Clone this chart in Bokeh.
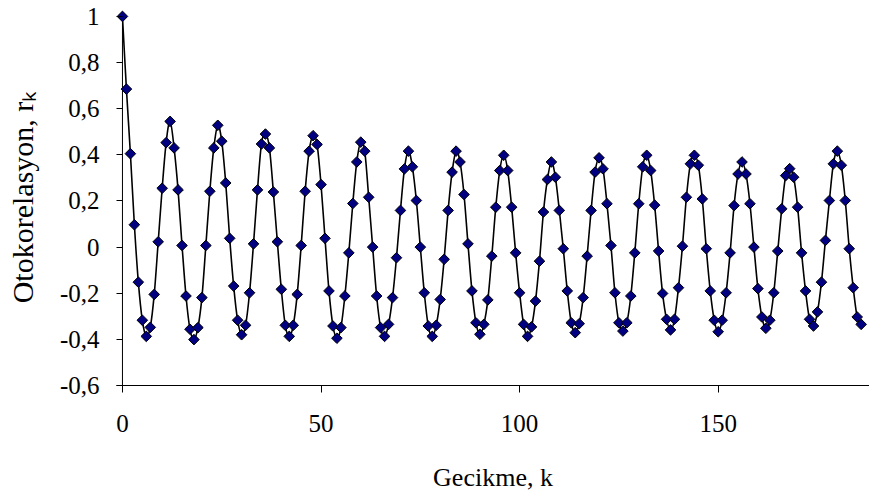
import math
from bokeh.plotting import figure
from bokeh.models import FixedTicker, Range1d
from bokeh.embed import file_html
from bokeh.resources import INLINE

# autocorrelation r_k for lags k = 0..186
rk = [1.0, 0.685, 0.405, 0.097, -0.152, -0.317, -0.387, -0.348, -0.205, 0.023,
      0.255, 0.453, 0.545, 0.430, 0.248, 0.007, -0.212, -0.356, -0.401, -0.349,
      -0.219, 0.007, 0.242, 0.430, 0.528, 0.459, 0.278, 0.038, -0.169, -0.317,
      -0.380, -0.339, -0.198, 0.014, 0.248, 0.447, 0.490, 0.430, 0.239, 0.023,
      -0.183, -0.339, -0.387, -0.339, -0.205, 0.007, 0.242, 0.416, 0.483, 0.445,
      0.271, 0.038, -0.190, -0.342, -0.395, -0.349, -0.212, -0.025, 0.189, 0.369,
      0.455, 0.416, 0.216, 0.0, -0.212, -0.349, -0.387, -0.335, -0.219, -0.046,
      0.159, 0.339, 0.416, 0.348, 0.202, 0.0, -0.198, -0.342, -0.387, -0.339,
      -0.227, -0.053, 0.159, 0.325, 0.416, 0.369, 0.228, 0.014, -0.190, -0.328,
      -0.378, -0.335, -0.229, -0.039, 0.173, 0.332, 0.398, 0.332, 0.173, -0.025,
      -0.198, -0.335, -0.387, -0.346, -0.234, -0.061, 0.152, 0.293, 0.369, 0.303,
      0.159, -0.007, -0.190, -0.328, -0.371, -0.332, -0.219, -0.039, 0.159, 0.325,
      0.387, 0.339, 0.188, 0.007, -0.198, -0.328, -0.364, -0.328, -0.212, -0.025,
      0.188, 0.348, 0.398, 0.332, 0.182, -0.017, -0.201, -0.313, -0.359, -0.313,
      -0.176, 0.004, 0.216, 0.361, 0.398, 0.355, 0.209, -0.007, -0.190, -0.317,
      -0.367, -0.317, -0.198, -0.025, 0.180, 0.317, 0.369, 0.317, 0.188, 0.0,
      -0.180, -0.303, -0.352, -0.317, -0.198, -0.017, 0.166, 0.310, 0.340, 0.303,
      0.173, -0.025, -0.190, -0.313, -0.342, -0.281, -0.152, 0.029, 0.202, 0.361,
      0.416, 0.355, 0.202, -0.007, -0.176, -0.303, -0.335]
lags = list(range(len(rk)))

x_ticks = [0, 50, 100, 150]
x_tick_labels = ["0", "50", "100", "150"]
y_ticks = [-0.6, -0.4, -0.2, 0.0, 0.2, 0.4, 0.6, 0.8, 1.0]
y_tick_labels = ["-0,6", "-0,4", "-0,2", "0", "0,2", "0,4", "0,6", "0,8", "1"]

FONT = "Liberation Serif"

p = figure(width=869, height=500, output_backend="svg", toolbar_location=None,
           x_range=Range1d(-1.5, 188.1), y_range=Range1d(-0.6, 1.03),
           min_border_left=116, min_border_right=0, min_border_top=9,
           min_border_bottom=115)
p.outline_line_color = None
p.grid.visible = False
p.background_fill_color = "white"
p.border_fill_color = "white"

# vertical axis line at lag 0, spanning the tick range
p.segment(x0=[x_ticks[0]], y0=[y_ticks[0]], x1=[x_ticks[0]], y1=[y_ticks[-1]],
          line_color="black", line_width=1)

# smooth connecting curve (Catmull-Rom -> cubic Bezier, like a smoothed line)
n = len(rk)
x0, y0, x1, y1, cx0, cy0, cx1, cy1 = [], [], [], [], [], [], [], []
for i in range(n - 1):
    im = max(i - 1, 0)
    ip2 = min(i + 2, n - 1)
    x0.append(lags[i]); y0.append(rk[i])
    x1.append(lags[i + 1]); y1.append(rk[i + 1])
    cx0.append(lags[i] + (lags[i + 1] - lags[im]) / 6.0)
    cy0.append(rk[i] + (rk[i + 1] - rk[im]) / 6.0)
    cx1.append(lags[i + 1] - (lags[ip2] - lags[i]) / 6.0)
    cy1.append(rk[i + 1] - (rk[ip2] - rk[i]) / 6.0)
p.bezier(x0=x0, y0=y0, x1=x1, y1=y1, cx0=cx0, cy0=cy0, cx1=cx1, cy1=cy1,
         line_color="black", line_width=1.6)

p.scatter(lags, rk, marker="square", angle=math.pi / 4, size=7.5,
          fill_color="#000080", line_color="black", line_width=1)

for ax in (p.xaxis[0], p.yaxis[0]):
    ax.minor_tick_line_color = None
    ax.axis_line_color = "black"
    ax.major_tick_line_color = "black"
    ax.major_label_text_font = FONT
    ax.major_label_text_font_size = "25px"
    ax.major_label_text_color = "black"
    ax.axis_label_text_font = FONT
    ax.axis_label_text_font_style = "normal"
    ax.axis_label_text_color = "black"

p.xaxis.ticker = FixedTicker(ticks=x_ticks)
p.xaxis.major_label_overrides = dict(zip(x_ticks, x_tick_labels))
p.xaxis.major_tick_in = 0
p.xaxis.major_tick_out = 7
p.xaxis.major_label_standoff = 22
p.xaxis.axis_label = "Gecikme, k"
p.xaxis.axis_label_text_font_size = "26px"
p.xaxis.axis_label_standoff = 28

p.yaxis.ticker = FixedTicker(ticks=y_ticks)
p.yaxis.major_label_overrides = dict(zip(y_ticks, y_tick_labels))
p.yaxis.axis_line_color = None
p.yaxis.major_tick_in = 6
p.yaxis.major_tick_out = 0
p.yaxis.major_label_standoff = 17
p.yaxis.axis_label = "Otokorelasyon, r\u2096"
p.yaxis.axis_label_text_font_size = "30px"
p.yaxis.axis_label_standoff = 18

open("out.html", "w").write(file_html(p, INLINE))
